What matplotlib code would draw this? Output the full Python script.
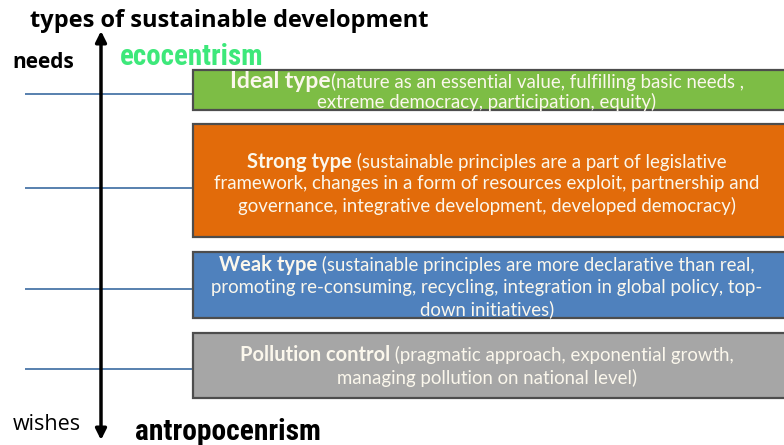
import matplotlib
matplotlib.use("Agg")
import matplotlib.pyplot as plt
from matplotlib.patches import Rectangle
from matplotlib import font_manager

title = "types of sustainable development"
axis_top = "needs"
axis_bottom = "wishes"
top_label = "ecocentrism"
bottom_label = "antropocenrism"

type_names = ["Ideal type", "Strong type", "Weak type", "Pollution control"]
type_lines = [
    ["(nature as an essential value, fulfilling basic needs ,",
     "extreme democracy, participation, equity)"],
    [" (sustainable principles are a part of legislative",
     "framework, changes in a form of resources exploit, partnership and",
     "governance, integrative development, developed democracy)"],
    [" (sustainable principles are more declarative than real,",
     "promoting re-consuming, recycling, integration in global policy, top-",
     "down initiatives)"],
    [" (pragmatic approach, exponential growth,",
     "managing pollution on national level)"],
]

# layout (pixels)
box_colors = ["#7dbd45", "#e26b0a", "#4f81bd", "#a6a6a6"]
box_top = [70, 124, 252, 333]
box_bot = [110, 237, 318, 398]
line_y = [94, 188, 289, 369]
text_y = [[82, 102], [162, 184, 206], [265, 287, 309], [355, 378]]
head_size = [16.5, 14.5, 14.5, 14.5]

W, H = 784, 445
fig = plt.figure(figsize=(W / 100, H / 100), dpi=100)
ax = fig.add_axes([0, 0, 1, 1])
ax.set_xlim(0, W)
ax.set_ylim(H, 0)
ax.axis("off")

FONT = ["Lato", "DejaVu Sans"]
OPEN = ["Open Sans", "DejaVu Sans"]

names = {f.name for f in font_manager.fontManager.ttflist}
narrow = [n for n in ["Liberation Sans Narrow", "Roboto Condensed", "Open Sans Condensed",
                      "DejaVu Sans Condensed"] if n in names]
COND = narrow + ["DejaVu Sans"]

renderer = fig.canvas.get_renderer()

ax.text(30, 21, title, fontsize=17, fontweight="bold", family=OPEN,
        ha="left", va="center", color="black")
ax.text(12, 63, axis_top, fontsize=15, fontweight="bold", family=OPEN,
        ha="left", va="center")
ax.text(13, 424, axis_bottom, fontsize=15.5, family=OPEN,
        ha="left", va="center")


def squeezed(x, y, s, width, color, size):
    t = ax.text(x, y, s, fontsize=size, fontweight="heavy", family=COND, stretch="condensed",
                ha="left", va="center", color=color)
    w = t.get_window_extent(renderer).width
    if w > width:
        t.set_fontsize(size * width / w)
    return t


squeezed(120, 57, top_label, 143, "#3de87a", 26)
squeezed(135, 432, bottom_label, 186, "black", 26)

# vertical double arrow
ax.annotate("", xy=(101, 31), xytext=(101, 440),
            arrowprops=dict(arrowstyle="<|-|>", lw=2.5, color="black", mutation_scale=16,
                            shrinkA=0, shrinkB=0))

for y in line_y:
    ax.plot([25, 194], [y, y], color="#4a76a8", lw=1.3, solid_capstyle="butt")

cx = 487
fs = 13.4
for i in range(len(type_names)):
    ax.add_patch(Rectangle((193, box_top[i]), 620, box_bot[i] - box_top[i],
                           facecolor=box_colors[i], edgecolor="#4d4d4d", lw=1.6, zorder=2))
    lines = type_lines[i]
    t1 = ax.text(0, text_y[i][0], type_names[i], fontsize=head_size[i], fontweight="bold",
                 family=FONT, ha="left", va="center", color="#fbf7ec", zorder=3)
    t2 = ax.text(0, text_y[i][0], lines[0], fontsize=fs, family=FONT,
                 ha="left", va="center", color="#fbf7ec", zorder=3)
    w1 = t1.get_window_extent(renderer).width
    w2 = t2.get_window_extent(renderer).width
    x0 = cx - (w1 + w2) / 2
    t1.set_x(x0)
    t2.set_x(x0 + w1)
    for j, ln in enumerate(lines[1:], start=1):
        ax.text(cx, text_y[i][j], ln, fontsize=fs, family=FONT, ha="center", va="center",
                color="#fbf7ec", zorder=3)

fig.savefig("out.png", dpi=100)
